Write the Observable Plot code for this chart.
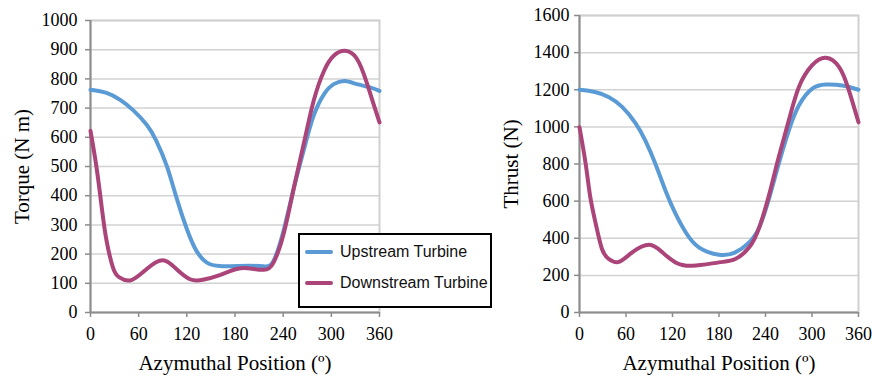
<!DOCTYPE html>
<html>
<head>
<meta charset="utf-8">
<script src="https://cdn.jsdelivr.net/npm/d3@7"></script>
<script src="https://cdn.jsdelivr.net/npm/@observablehq/plot@0.6"></script>
<style>
  body { margin: 0; background: #fff; }
  #wrap { position: relative; width: 872px; height: 377px; overflow: hidden; background: #fff; }
  #wrap > svg { position: absolute; top: 0; }
  .legend {
    position: absolute; left: 298px; top: 233px; width: 194px; height: 75px;
    box-sizing: border-box; border: 2px solid #000; background: #fff; z-index: 2;
    font-family: "Liberation Sans", Arial, sans-serif; font-size: 16px; color: #111;
  }
  .legend .row { position: absolute; left: 0; height: 20px; display: flex; align-items: center; }
  .legend .sw { position: absolute; left: 5px; width: 28px; height: 4px; border-radius: 2px; }
  .legend .lab { position: absolute; left: 40px; white-space: nowrap; }
</style>
</head>
<body>
<div id="wrap"></div>
<script>
// Azimuthal position (deg) and torque (N m) for each turbine
const torqueUpAngle = [0, 20, 37, 53, 70, 82, 95, 107, 120, 132, 145, 161, 182, 199, 216, 228, 241, 253, 266, 278, 291, 303, 317, 332, 348, 360];
const torqueUp      = [763, 752, 728, 693, 643, 588, 502, 394, 286, 211, 171, 159, 159, 160, 158, 177, 285, 423, 560, 674, 748, 782, 793, 782, 771, 759];
const torqueDownAngle = [0, 7.5, 14, 20, 28, 36, 51, 70, 90, 107, 124, 140, 161, 182, 199, 216, 228, 241, 253, 266, 278, 291, 303, 317, 332, 344, 352, 360];
const torqueDown      = [622, 497, 360, 246, 154, 120, 111, 149, 179, 149, 114, 112, 128, 149, 151, 146, 171, 274, 423, 582, 725, 828, 879, 896, 868, 788, 719, 651];

// Azimuthal position (deg) and thrust (N) for each turbine
const thrustUpAngle = [0, 20, 38, 55, 72, 85, 98, 111, 124, 137, 154, 180, 201, 219, 232, 245, 257, 270, 283, 300, 318, 339, 360];
const thrustUp      = [1200, 1188, 1160, 1108, 1022, 926, 800, 656, 531, 432, 351, 311, 324, 378, 459, 620, 800, 980, 1115, 1205, 1228, 1223, 1200];
const thrustDownAngle = [0, 8, 14, 21, 29, 38, 51, 68, 90, 107, 124, 146, 180, 201, 219, 232, 245, 257, 270, 283, 300, 318, 335, 347, 360];
const thrustDown      = [998, 800, 620, 477, 342, 288, 273, 324, 365, 324, 270, 252, 270, 288, 351, 459, 639, 836, 1034, 1214, 1331, 1372, 1322, 1205, 1025];

const xTicks = [0, 60, 120, 180, 240, 300, 360];
const torqueTicks = [0, 100, 200, 300, 400, 500, 600, 700, 800, 900, 1000];
const thrustTicks = [0, 200, 400, 600, 800, 1000, 1200, 1400, 1600];

const seriesNames = ["Upstream Turbine", "Downstream Turbine"];
const seriesColors = ["#5b9bd5", "#ab4479"];

const xTitle = "Azymuthal Position (º)";
const serif = '"Liberation Serif", "Times New Roman", serif';

function rows(angles, values) {
  return angles.map((a, i) => ({angle: a, value: values[i]}));
}

function chart(o) {
  const up = rows(o.upAngle, o.up);
  const down = rows(o.downAngle, o.down);
  const yMax = o.yTicks[o.yTicks.length - 1];
  const svg = Plot.plot({
    width: o.width,
    height: 377,
    marginLeft: o.marginLeft,
    marginRight: o.marginRight,
    marginTop: o.marginTop,
    marginBottom: 65,
    style: {fontFamily: serif, fontSize: "18px", color: "#000", background: "transparent", overflow: "visible"},
    x: {domain: [0, 360]},
    y: {domain: [0, yMax]},
    marks: [
      Plot.ruleY(o.yTicks.slice(1), {stroke: "#d2d2d2", strokeWidth: 1.5}),
      Plot.frame({stroke: "#d0d0d0", strokeWidth: 2}),
      Plot.axisY({ticks: o.yTicks, tickFormat: "d", tickSize: 5, tickPadding: o.yPad, stroke: "#8c8c8c", strokeWidth: 1.5, fontSize: 18, fontFamily: serif, fill: "#000", label: null}),
      Plot.axisX({ticks: xTicks, tickFormat: "d", tickSize: 5, tickPadding: 10, stroke: "#8c8c8c", strokeWidth: 1.5, fontSize: 18, fontFamily: serif, fill: "#000", label: null}),
      Plot.ruleX([0], {stroke: "#8c8c8c", strokeWidth: 2}),
      Plot.ruleY([0], {stroke: "#8c8c8c", strokeWidth: 2}),
      Plot.line(up, {x: "angle", y: "value", stroke: seriesColors[0], strokeWidth: 4, curve: "natural"}),
      Plot.line(down, {x: "angle", y: "value", stroke: seriesColors[1], strokeWidth: 4, curve: "natural"}),
      Plot.text([o.yTitle], {text: d => d, frameAnchor: "left", rotate: -90, dx: -68, fontSize: 21, fontFamily: serif, textAnchor: "middle", lineAnchor: "middle", fill: "#000"}),
      Plot.text([xTitle], {text: d => d, frameAnchor: "bottom", dy: 51, fontSize: 21, fontFamily: serif, textAnchor: "middle", lineAnchor: "middle", fill: "#000"})
    ]
  });
  svg.style.left = o.left + "px";
  return svg;
}

const wrap = document.getElementById("wrap");

wrap.appendChild(chart({
  left: 0, width: 400, marginLeft: 90, marginRight: 21, marginTop: 20, yPad: 8,
  upAngle: torqueUpAngle, up: torqueUp, downAngle: torqueDownAngle, down: torqueDown,
  yTicks: torqueTicks, yTitle: "Torque (N m)"
}));

wrap.appendChild(chart({
  left: 480, width: 392, marginLeft: 99, marginRight: 14, marginTop: 15, yPad: 5,
  upAngle: thrustUpAngle, up: thrustUp, downAngle: thrustDownAngle, down: thrustDown,
  yTicks: thrustTicks, yTitle: "Thrust (N)"
}));

// Legend box
const legend = document.createElement("div");
legend.className = "legend";
seriesNames.forEach((name, i) => {
  const row = document.createElement("div");
  row.className = "row";
  row.style.top = (i === 0 ? 7 : 38) + "px";
  const sw = document.createElement("div");
  sw.className = "sw";
  sw.style.background = seriesColors[i];
  const lab = document.createElement("div");
  lab.className = "lab";
  lab.textContent = name;
  row.appendChild(sw);
  row.appendChild(lab);
  legend.appendChild(row);
});
wrap.appendChild(legend);
</script>
</body>
</html>
